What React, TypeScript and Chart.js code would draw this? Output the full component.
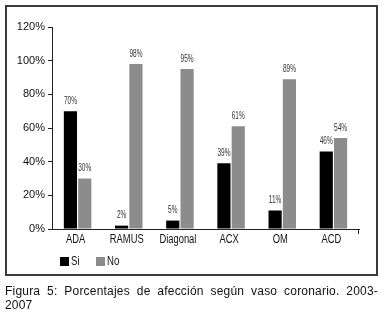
import React, { useEffect, useRef } from "react";
import { Chart, registerables } from "chart.js";

Chart.register(...registerables);

const categories = ["ADA", "RAMUS", "Diagonal", "ACX", "OM", "ACD"];
const siValues = [70, 2, 5, 39, 11, 46];
const noValues = [30, 98, 95, 61, 89, 54];
const seriesNames = ["Si", "No"];
const seriesColors = ["#000000", "#8c8c8c"];
const yTicks = [0, 20, 40, 60, 80, 100, 120];
const captionLine1 = "Figura 5: Porcentajes de afección según vaso coronario. 2003-";
const captionLine2 = "2007";

const SANS = '"Liberation Sans", Arial, sans-serif';

function narrowText(ctx: any, text: string, x: number, y: number, sx: number, align: string) {
  ctx.save();
  ctx.translate(x, y);
  ctx.scale(sx, 1);
  ctx.textAlign = align;
  ctx.fillText(text, 0, 0);
  ctx.restore();
}

const customDraw = {
  id: "customDraw",
  afterDatasetsDraw(chart: any) {
    const ctx = chart.ctx;
    ctx.save();
    // data labels
    ctx.fillStyle = "#333";
    ctx.font = "10px " + SANS;
    ctx.textBaseline = "bottom";
    chart.data.datasets.forEach((ds: any, di: number) => {
      const meta = chart.getDatasetMeta(di);
      meta.data.forEach((bar: any, i: number) => {
        narrowText(ctx, ds.data[i] + "%", bar.x, bar.y - 5, 0.65, "center");
      });
    });
    // x category labels (condensed)
    const xs = chart.scales.x;
    ctx.fillStyle = "#111";
    ctx.font = "12px " + SANS;
    ctx.textBaseline = "middle";
    categories.forEach((c, i) => {
      narrowText(ctx, c, xs.getPixelForValue(i) - 2, xs.top + 11, 0.78, "center");
    });
    // small end tick on x axis
    ctx.strokeStyle = "#222";
    ctx.lineWidth = 1;
    ctx.beginPath();
    ctx.moveTo(Math.round(xs.right) - 0.5, xs.top);
    ctx.lineTo(Math.round(xs.right) - 0.5, xs.top + 5);
    ctx.stroke();
    // legend
    const lx = [60, 96];
    seriesNames.forEach((n, i) => {
      ctx.fillStyle = seriesColors[i];
      ctx.fillRect(lx[i], 257, 9, 9);
      ctx.fillStyle = "#111";
      ctx.font = "12px " + SANS;
      ctx.textBaseline = "middle";
      narrowText(ctx, n, lx[i] + 11, 262, 0.8, "left");
    });
    ctx.restore();
  },
};

export default function App() {
  const ref = useRef<HTMLCanvasElement>(null);
  useEffect(() => {
    const chart = new Chart(ref.current as HTMLCanvasElement, {
      type: "bar",
      data: {
        labels: categories,
        datasets: [
          { label: seriesNames[0], data: siValues, backgroundColor: seriesColors[0] },
          { label: seriesNames[1], data: noValues, backgroundColor: seriesColors[1] },
        ],
      },
      options: {
        animation: false,
        responsive: false,
        maintainAspectRatio: false,
        layout: { padding: { left: 0, top: 27, right: 25, bottom: 0 } },
        plugins: { legend: { display: false }, tooltip: { enabled: false } },
        datasets: { bar: { categoryPercentage: 0.56, barPercentage: 0.92 } },
        scales: {
          x: {
            grid: { display: false },
            border: { display: true, color: "#222", width: 1 },
            ticks: { display: false },
            afterFit: (s: any) => {
              s.height = 87;
            },
          },
          y: {
            min: 0,
            max: 120,
            afterBuildTicks: (s: any) => {
              s.ticks = yTicks.map((v) => ({ value: v }));
            },
            grid: { drawOnChartArea: false, drawTicks: true, tickLength: 4, color: "#222" },
            border: { display: true, color: "#222", width: 1 },
            ticks: {
              color: "#111",
              font: { family: SANS, size: 11 },
              padding: 3,
              callback: (v: any) => v + "%",
            },
            afterFit: (s: any) => {
              s.width = 52;
            },
          },
        },
      },
      plugins: [customDraw],
    } as any);
    return () => chart.destroy();
  }, []);

  return (
    <div style={{ position: "absolute", left: 0, top: 0, width: 384, height: 316, background: "#fff" }}>
      <div
        style={{
          position: "absolute",
          left: 5,
          top: 5,
          width: 369,
          height: 267,
          border: "2px solid #3a3a3a",
        }}
      />
      <canvas
        ref={ref}
        width={384}
        height={316}
        style={{ position: "absolute", left: 0, top: 0, width: 384, height: 316 }}
      />
      <div
        style={{
          position: "absolute",
          left: 5,
          top: 284,
          width: 373,
          fontFamily: SANS,
          fontSize: 12,
          lineHeight: "14px",
          color: "#111",
          letterSpacing: 0.2,
        }}
      >
        <div style={{ textAlign: "justify", textAlignLast: "justify" } as any}>{captionLine1}</div>
        <div>{captionLine2}</div>
      </div>
    </div>
  );
}
